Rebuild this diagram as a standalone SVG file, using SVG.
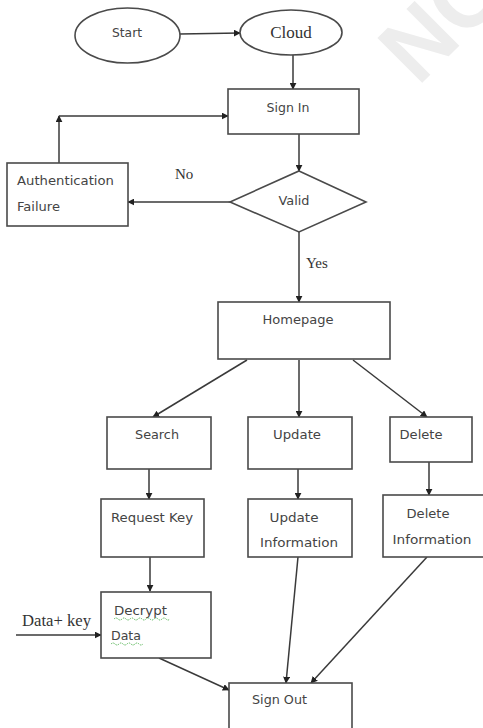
<svg xmlns="http://www.w3.org/2000/svg" width="483" height="728" viewBox="0 0 483 728">
  <defs>
    <marker id="arrow" viewBox="0 0 10 10" refX="9" refY="5" markerWidth="7" markerHeight="7" markerUnits="userSpaceOnUse" orient="auto">
      <path d="M0,0 L10,5 L0,10 z" fill="#222"/>
    </marker>
    <style>
      .shape { fill: #ffffff; stroke: #4a4a4a; stroke-width: 1.6; }
      .edge { fill: none; stroke: #3a3a3a; stroke-width: 1.5; marker-end: url(#arrow); }
      .lbl { font-family: "DejaVu Sans", "Liberation Sans", sans-serif; font-size: 12.5px; fill: #444444; }
      .mid { text-anchor: middle; }
      .serif { font-family: "Liberation Serif", "Times New Roman", serif; fill: #333333; }
      .squiggle { fill: none; stroke: #5cb85c; stroke-width: 1; stroke-dasharray: 1.5 1; }
      .mark { font-family: "Liberation Sans", Arial, sans-serif; font-weight: bold; font-size: 92px; fill: #ededed; }
    </style>
  </defs>

  <rect width="483" height="728" fill="#ffffff"/>

  <!-- faint background stamp -->
  <text class="mark" transform="translate(418,87) rotate(-45) scale(0.97,1)">NO</text>

  <!-- connectors -->
  <g id="connectors">
    <line class="edge" x1="180" y1="34" x2="240" y2="33"/>
    <line class="edge" x1="293" y1="55" x2="293" y2="89"/>
    <line class="edge" x1="299" y1="134" x2="299" y2="171"/>
    <line class="edge" x1="230" y1="202" x2="128" y2="202"/>
    <line class="edge" x1="59" y1="163" x2="59" y2="116"/>
    <line class="edge" x1="59" y1="116" x2="228" y2="116"/>
    <line class="edge" x1="299" y1="232" x2="299" y2="302"/>
    <line class="edge" x1="247" y1="360" x2="153" y2="417"/>
    <line class="edge" x1="299" y1="360" x2="299" y2="417"/>
    <line class="edge" x1="353" y1="360" x2="427" y2="417"/>
    <line class="edge" x1="149" y1="469" x2="149" y2="499"/>
    <line class="edge" x1="298" y1="469" x2="298" y2="499"/>
    <line class="edge" x1="429" y1="462" x2="429" y2="495"/>
    <line class="edge" x1="150" y1="557" x2="150" y2="591"/>
    <line class="edge" x1="16" y1="635" x2="101" y2="635"/>
    <line class="edge" x1="159" y1="658" x2="229" y2="690"/>
    <line class="edge" x1="298" y1="557" x2="286" y2="683"/>
    <line class="edge" x1="427" y1="557" x2="311" y2="683"/>
    <text class="serif" x="175" y="179" font-size="15">No</text>
    <text class="serif" x="306" y="268" font-size="15">Yes</text>
    <text class="serif" x="22" y="626" font-size="16" textLength="69" lengthAdjust="spacingAndGlyphs">Data+ key</text>
  </g>

  <!-- nodes -->
  <g id="start">
    <ellipse class="shape" cx="127.5" cy="35.5" rx="52.5" ry="27.5"/>
    <text class="lbl mid" x="127" y="37" textLength="30" lengthAdjust="spacingAndGlyphs">Start</text>
  </g>
  <g id="cloud">
    <ellipse class="shape" cx="291" cy="32.5" rx="51" ry="22.5"/>
    <text class="serif mid" x="291" y="38" font-size="17">Cloud</text>
  </g>
  <g id="sign-in">
    <rect class="shape" x="228" y="89" width="131" height="45"/>
    <text class="lbl mid" x="288" y="112" textLength="43" lengthAdjust="spacingAndGlyphs">Sign In</text>
  </g>
  <g id="auth-failure">
    <rect class="shape" x="7" y="163" width="121" height="63"/>
    <text class="lbl" x="17" y="185" textLength="97" lengthAdjust="spacingAndGlyphs">Authentication</text>
    <text class="lbl" x="17" y="211" textLength="43" lengthAdjust="spacingAndGlyphs">Failure</text>
  </g>
  <g id="valid">
    <polygon class="shape" points="299,171 366,202 299,232 230,202"/>
    <text class="lbl mid" x="294" y="205" textLength="31" lengthAdjust="spacingAndGlyphs">Valid</text>
  </g>
  <g id="homepage">
    <rect class="shape" x="218" y="302" width="172" height="57"/>
    <text class="lbl mid" x="298" y="324" textLength="71" lengthAdjust="spacingAndGlyphs">Homepage</text>
  </g>
  <g id="search">
    <rect class="shape" x="107" y="417" width="104" height="52"/>
    <text class="lbl mid" x="157" y="439" textLength="44" lengthAdjust="spacingAndGlyphs">Search</text>
  </g>
  <g id="update">
    <rect class="shape" x="248" y="417" width="104" height="52"/>
    <text class="lbl mid" x="297" y="439" textLength="48" lengthAdjust="spacingAndGlyphs">Update</text>
  </g>
  <g id="delete">
    <rect class="shape" x="390" y="417" width="82" height="45"/>
    <text class="lbl mid" x="421" y="439" textLength="43" lengthAdjust="spacingAndGlyphs">Delete</text>
  </g>
  <g id="request-key">
    <rect class="shape" x="101" y="499" width="103" height="58"/>
    <text class="lbl mid" x="152" y="522" textLength="82" lengthAdjust="spacingAndGlyphs">Request Key</text>
  </g>
  <g id="update-information">
    <rect class="shape" x="248" y="499" width="104" height="58"/>
    <text class="lbl mid" x="294" y="522" textLength="49" lengthAdjust="spacingAndGlyphs">Update</text>
    <text class="lbl mid" x="299" y="547" textLength="78" lengthAdjust="spacingAndGlyphs">Information</text>
  </g>
  <g id="delete-information">
    <rect class="shape" x="383" y="495" width="106" height="62"/>
    <text class="lbl mid" x="428" y="518" textLength="43" lengthAdjust="spacingAndGlyphs">Delete</text>
    <text class="lbl mid" x="432" y="544" textLength="79" lengthAdjust="spacingAndGlyphs">Information</text>
  </g>
  <g id="decrypt-data">
    <rect class="shape" x="101" y="592" width="110" height="66"/>
    <text class="lbl" x="114" y="615" textLength="53" lengthAdjust="spacingAndGlyphs">Decrypt</text>
    <text class="lbl" x="111" y="640" textLength="30" lengthAdjust="spacingAndGlyphs">Data</text>
    <path class="squiggle" d="M114,619 q2,-2 4,0 t4,0 t4,0 t4,0 t4,0 t4,0 t4,0 t4,0 t4,0 t4,0 t4,0 t4,0 t4,0 t4,0"/>
    <path class="squiggle" d="M111,644 q2,-2 4,0 t4,0 t4,0 t4,0 t4,0 t4,0 t4,0 t4,0"/>
  </g>
  <g id="sign-out">
    <rect class="shape" x="229" y="683" width="123" height="60"/>
    <text class="lbl" x="252" y="704" textLength="55" lengthAdjust="spacingAndGlyphs">Sign Out</text>
  </g>
</svg>
